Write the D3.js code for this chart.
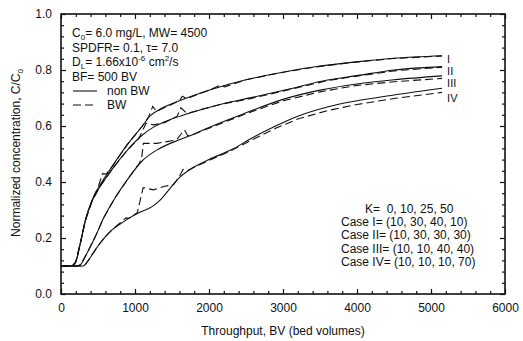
<!DOCTYPE html>
<html>
<head>
<meta charset="utf-8">
<script src="https://cdn.jsdelivr.net/npm/d3@7"></script>
<style>
  body { margin: 0; background: #fff; }
  text { font-family: "Liberation Sans", Arial, sans-serif; fill: #111; }
</style>
</head>
<body>
<svg width="523" height="341"></svg>
<script>
// axis values
const xMajor = [0, 1000, 2000, 3000, 4000, 5000, 6000]
const yMajor = [0, 0.2, 0.4, 0.6, 0.8, 1.0]

// [throughput BV, C/C0]
const caseI_nonBW = [[0,0.1],[150,0.1],[200,0.115],[260,0.18],[330,0.265],[420,0.335],[530,0.39],[690,0.455],[900,0.535],[1100,0.6],[1200,0.635],[1320,0.657],[1600,0.69],[2000,0.728],[2500,0.765],[3000,0.792],[3500,0.814],[4000,0.829],[4500,0.842],[5150,0.851]]
const caseI_BW = [[0,0.1],[150,0.1],[200,0.115],[260,0.18],[330,0.265],[420,0.335],[500,0.38],[560,0.43],[610,0.428],[690,0.455],[900,0.535],[1100,0.6],[1180,0.63],[1240,0.67],[1290,0.652],[1600,0.69],[1640,0.706],[1700,0.698],[2000,0.728],[2150,0.745],[2210,0.74],[2500,0.765],[3000,0.792],[3500,0.813],[4000,0.829],[4500,0.841],[5150,0.85]]
const caseII_nonBW = [[0,0.1],[150,0.1],[200,0.115],[260,0.18],[330,0.262],[420,0.332],[530,0.385],[690,0.445],[900,0.515],[1100,0.568],[1250,0.596],[1400,0.615],[1700,0.643],[2150,0.677],[2600,0.703],[3100,0.733],[3600,0.764],[4000,0.78],[4500,0.8],[5150,0.812]]
const caseII_BW = [[0,0.1],[150,0.1],[200,0.115],[260,0.18],[330,0.262],[420,0.332],[530,0.385],[690,0.445],[900,0.515],[1050,0.555],[1150,0.61],[1250,0.604],[1400,0.612],[1570,0.635],[1620,0.665],[1700,0.645],[1800,0.652],[2150,0.677],[2600,0.7],[3100,0.731],[3600,0.762],[4000,0.778],[4500,0.797],[5150,0.81]]
const caseIII_nonBW = [[0,0.1],[220,0.1],[260,0.104],[360,0.15],[464,0.205],[577,0.272],[734,0.345],[915,0.415],[1095,0.475],[1320,0.518],[1590,0.55],[1770,0.568],[2000,0.595],[2500,0.647],[3000,0.695],[3500,0.728],[4000,0.75],[4500,0.765],[5150,0.779]]
const caseIII_BW = [[0,0.1],[220,0.1],[260,0.104],[360,0.15],[464,0.205],[577,0.272],[734,0.345],[915,0.415],[1060,0.468],[1090,0.485],[1113,0.538],[1293,0.538],[1518,0.548],[1570,0.553],[1630,0.574],[1670,0.586],[1710,0.566],[1770,0.568],[2000,0.592],[2500,0.644],[3000,0.69],[3500,0.722],[4000,0.745],[4500,0.758],[5150,0.77]]
const caseIV_nonBW = [[0,0.1],[300,0.1],[330,0.106],[420,0.14],[509,0.175],[600,0.205],[689,0.229],[800,0.25],[915,0.27],[1050,0.29],[1230,0.312],[1350,0.338],[1455,0.371],[1590,0.413],[1770,0.449],[2000,0.48],[2300,0.515],[2600,0.56],[2900,0.6],[3200,0.635],[3600,0.668],[4000,0.69],[4500,0.711],[5150,0.735]]
const caseIV_BW = [[0,0.1],[300,0.1],[330,0.106],[420,0.14],[509,0.175],[600,0.205],[689,0.229],[830,0.262],[880,0.272],[915,0.27],[1030,0.29],[1110,0.38],[1250,0.372],[1400,0.385],[1520,0.39],[1600,0.42],[1650,0.445],[1720,0.442],[1770,0.449],[2000,0.477],[2300,0.512],[2600,0.553],[2900,0.592],[3200,0.625],[3600,0.655],[4000,0.677],[4500,0.698],[5150,0.72]]

const caseNames = ["I", "II", "III", "IV"]
const caseLabelY = [0.84, 0.796, 0.752, 0.698]

const svg = d3.select("svg")
const margin = { top: 14, right: 18, bottom: 47, left: 61 }
const width = 523 - margin.left - margin.right
const height = 341 - margin.top - margin.bottom

const x = d3.scaleLinear().domain([0, 6000]).range([0, width])
const y = d3.scaleLinear().domain([0, 1]).range([height, 0])

const g = svg.append("g").attr("transform", `translate(${margin.left},${margin.top})`)

const xMinor = d3.range(0, 6001, 200).filter(v => v % 1000 !== 0)
const yMinor = d3.range(0, 51, 2).map(v => v / 50).filter(v => Math.round(v * 50) % 10 !== 0)

function styleAxis(sel) {
    sel.select(".domain").remove()
    sel.selectAll("line").attr("stroke", "#111").attr("stroke-width", 1.2)
    sel.selectAll("text").attr("font-size", 12).attr("fill", "#111")
        .attr("font-family", "'Liberation Sans', Arial, sans-serif")
}

// bottom
g.append("g").attr("transform", `translate(0,${height})`)
    .call(d3.axisBottom(x).tickValues(xMajor).tickSize(-5).tickPadding(9).tickFormat(d3.format("d")))
    .call(styleAxis)
g.append("g").attr("transform", `translate(0,${height})`)
    .call(d3.axisBottom(x).tickValues(xMinor).tickSize(-3).tickFormat(""))
    .call(styleAxis)
// top
g.append("g").call(d3.axisTop(x).tickValues(xMajor).tickSize(-5).tickFormat("")).call(styleAxis)
g.append("g").call(d3.axisTop(x).tickValues(xMinor).tickSize(-3).tickFormat("")).call(styleAxis)
// left
g.append("g")
    .call(d3.axisLeft(y).tickValues(yMajor).tickSize(-5).tickPadding(9).tickFormat(d3.format(".1f")))
    .call(styleAxis)
g.append("g").call(d3.axisLeft(y).tickValues(yMinor).tickSize(-3).tickFormat("")).call(styleAxis)
// right
g.append("g").attr("transform", `translate(${width},0)`)
    .call(d3.axisRight(y).tickValues(yMajor).tickSize(-5).tickFormat("")).call(styleAxis)
g.append("g").attr("transform", `translate(${width},0)`)
    .call(d3.axisRight(y).tickValues(yMinor).tickSize(-3).tickFormat("")).call(styleAxis)

g.append("rect").attr("width", width).attr("height", height)
    .attr("fill", "none").attr("stroke", "#111").attr("stroke-width", 1.6)

// curves
const smooth = d3.line().x(d => x(d[0])).y(d => y(d[1])).curve(d3.curveMonotoneX)
const plain = d3.line().x(d => x(d[0])).y(d => y(d[1]))

const solids = [caseI_nonBW, caseII_nonBW, caseIII_nonBW, caseIV_nonBW]
const dashes = [caseI_BW, caseII_BW, caseIII_BW, caseIV_BW]

g.append("g").selectAll("path").data(solids).join("path")
    .attr("d", smooth).attr("fill", "none").attr("stroke", "#111").attr("stroke-width", 1.1)
g.append("g").selectAll("path").data(dashes).join("path")
    .attr("d", plain).attr("fill", "none").attr("stroke", "#111").attr("stroke-width", 1.1)
    .attr("stroke-dasharray", "8,4")

g.append("g").selectAll("text").data(caseNames).join("text")
    .attr("x", x(5150) + 5).attr("y", (d, i) => y(caseLabelY[i]))
    .attr("dy", "0.35em").attr("font-size", 11).text(d => d)

// top-left notes
const notes = g.append("g").attr("transform", `translate(${72 - margin.left},0)`).attr("font-size", 12)
let t = notes.append("text").attr("y", 23)
t.append("tspan").text("C")
t.append("tspan").attr("font-size", 8).attr("dy", 3).text("0")
t.append("tspan").attr("dy", -3).text("= 6.0 mg/L, MW= 4500")
notes.append("text").attr("y", 38).text("SPDFR= 0.1, \u03c4= 7.0")
t = notes.append("text").attr("y", 52)
t.append("tspan").text("D")
t.append("tspan").attr("font-size", 8).attr("dy", 3).text("L")
t.append("tspan").attr("dy", -3).text("= 1.66x10")
t.append("tspan").attr("font-size", 8).attr("dy", -5).text("-6")
t.append("tspan").attr("dy", 5).text(" cm")
t.append("tspan").attr("font-size", 8).attr("dy", -5).text("2")
t.append("tspan").attr("dy", 5).text("/s")
notes.append("text").attr("y", 67).text("BF= 500 BV")
notes.append("line").attr("x1", 1).attr("x2", 25).attr("y1", 77).attr("y2", 77)
    .attr("stroke", "#111").attr("stroke-width", 1.1)
notes.append("text").attr("x", 35).attr("y", 81).text("non BW")
notes.append("line").attr("x1", 1).attr("x2", 25).attr("y1", 91).attr("y2", 91)
    .attr("stroke", "#111").attr("stroke-width", 1.1).attr("stroke-dasharray", "8,4")
notes.append("text").attr("x", 35).attr("y", 95).text("BW")

// bottom-right notes
const kNotes = ["K=  0, 10, 25, 50", "Case I= (10, 30, 40, 10)", "Case II= (10, 30, 30, 30)",
    "Case III= (10, 10, 40, 40)", "Case IV= (10, 10, 10, 70)"]
g.append("g").attr("font-size", 12).selectAll("text").data(kNotes).join("text")
    .attr("x", (d, i) => (i === 0 ? 365 : 341) - margin.left)
    .attr("y", (d, i) => 199 + i * 13.2)
    .style("white-space", "pre")
    .text(d => d)

// axis titles
svg.append("text").attr("x", 283).attr("y", 335).attr("text-anchor", "middle")
    .attr("font-size", 12).text("Throughput, BV (bed volumes)")
const yl = svg.append("text").attr("transform", "translate(20,153) rotate(-90)")
    .attr("text-anchor", "middle").attr("font-size", 12)
yl.append("tspan").text("Normalized concentration, C/C")
yl.append("tspan").attr("font-size", 8).attr("dy", 3).text("0")
</script>
</body>
</html>
